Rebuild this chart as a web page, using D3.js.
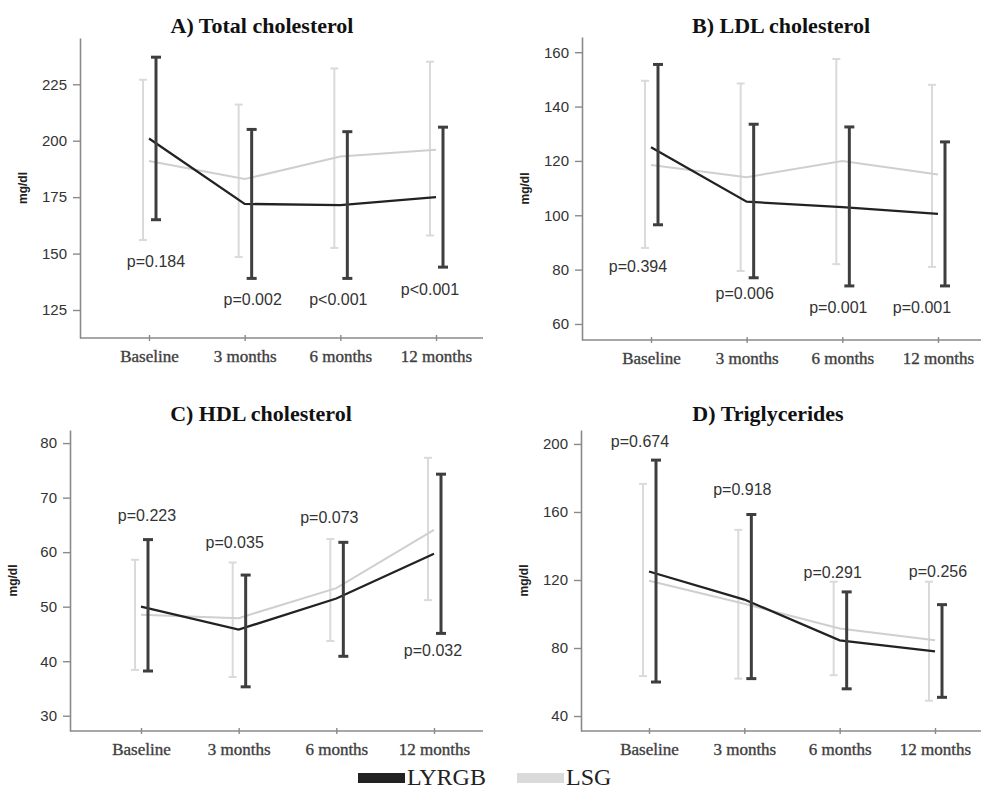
<!DOCTYPE html>
<html>
<head>
<meta charset="utf-8">
<script src="https://cdn.jsdelivr.net/npm/d3@7"></script>
<style>
  body { margin: 0; background: #fff; }
  svg { display: block; }
</style>
</head>
<body>
<svg id="chart"></svg>
<script>
// time points on the x axis
var timepoints = ["Baseline", "3 months", "6 months", "12 months"];

// each row: [mean, lower, upper] in mg/dl
var totalLYRGB = [[201, 165, 237], [172, 139, 205], [171.5, 139, 204], [175, 144, 206]];
var totalLSG   = [[191, 156, 227], [183, 148.5, 216], [193, 152.5, 232], [196, 158, 235]];
var totalP     = ["p=0.184", "p=0.002", "p<0.001", "p<0.001"];

var ldlLYRGB = [[125, 96.5, 155.5], [105, 77, 133.5], [103, 74, 132.5], [100.5, 74, 127]];
var ldlLSG   = [[118.5, 88, 149.5], [114, 79.5, 148.5], [120, 82, 157.5], [115, 81, 148]];
var ldlP     = ["p=0.394", "p=0.006", "p=0.001", "p=0.001"];

var hdlLYRGB = [[50, 38.2, 62.3], [45.8, 35.3, 55.8], [51.5, 40.9, 61.8], [59.7, 45.1, 74.3]];
var hdlLSG   = [[48.5, 38.4, 58.6], [47.9, 37.1, 58.1], [53.4, 43.7, 62.4], [64.1, 51.2, 77.3]];
var hdlP     = ["p=0.223", "p=0.035", "p=0.073", "p=0.032"];

var tgLYRGB = [[125, 60, 190.5], [108.5, 62, 158.5], [84.5, 56, 113], [78, 51, 105.5]];
var tgLSG   = [[119.5, 63.5, 176.5], [106, 62, 149.5], [91.5, 64, 119], [84.5, 49, 119]];
var tgP     = ["p=0.674", "p=0.918", "p=0.291", "p=0.256"];

var groups = ["LYRGB", "LSG"];

// layout of the four panels (pAt = where each p label sits, in axis units)
var panels = [
    {title: "A) Total cholesterol", a: totalLYRGB, b: totalLSG, p: totalP,
     pAt: [146.6, 129.6, 129.6, 134.1], pDx: [7, 8, -2, -6],
     ticks: [125, 150, 175, 200, 225], domain: [112.6, 245.5],
     axisX: 80, top: 38, bottom: 338, right: 483, x0: 149, x1: 436, titleX: 262, titleY: 25},
    {title: "B) LDL cholesterol", a: ldlLYRGB, b: ldlLSG, p: ldlP,
     pAt: [81, 71.2, 66, 66], pDx: [-13, -2, -4, -16],
     ticks: [60, 80, 100, 120, 140, 160], domain: [54.1, 165.6],
     axisX: 582, top: 37, bottom: 340, right: 981, x0: 651, x1: 938, titleX: 781, titleY: 25},
    {title: "C) HDL cholesterol", a: hdlLYRGB, b: hdlLSG, p: hdlP,
     pAt: [66.7, 61.8, 66.4, 41.9], pDx: [6, -4, -7, -1],
     ticks: [30, 40, 50, 60, 70, 80], domain: [27.2, 82.4],
     axisX: 70, top: 430, bottom: 731, right: 483, x0: 141, x1: 434, titleX: 261, titleY: 413},
    {title: "D) Triglycerides", a: tgLYRGB, b: tgLSG, p: tgP,
     pAt: [201.6, 173.2, 124.5, 125.1], pDx: [-9, -2, -7, 3],
     ticks: [40, 80, 120, 160, 200], domain: [31.2, 208.2],
     axisX: 581, top: 430, bottom: 731, right: 981, x0: 649, x1: 935, titleX: 768, titleY: 413}
];

var darkLine = "#222", darkBar = "#3e3e3e", lightLine = "#cfcfcf", lightBar = "#dadada";
var sans = "'Liberation Sans', Arial, sans-serif", serif = "'Liberation Serif', 'Times New Roman', serif";

var svg = d3.select("#chart").attr("width", 981).attr("height", 790);

panels.forEach(function(cfg) {
    var g = svg.append("g");
    var x = d3.scalePoint().domain(timepoints).range([cfg.x0, cfg.x1]);
    var y = d3.scaleLinear().domain(cfg.domain).range([cfg.bottom, cfg.top]);

    // y axis
    var yAxis = g.append("g")
        .attr("transform", "translate(" + cfg.axisX + ",0)")
        .call(d3.axisLeft(y).tickValues(cfg.ticks).tickSizeInner(7).tickSizeOuter(0).tickPadding(6));
    yAxis.select(".domain").attr("stroke", "#8a8a8a").attr("stroke-width", 1.6);
    yAxis.selectAll(".tick line").attr("stroke", "#8a8a8a").attr("stroke-width", 1.4);
    yAxis.selectAll(".tick text").attr("font-family", sans).attr("font-size", 15)
        .attr("fill", "#333");

    // x axis line spans the full plot width
    g.append("line")
        .attr("x1", cfg.axisX).attr("x2", cfg.right)
        .attr("y1", cfg.bottom).attr("y2", cfg.bottom)
        .attr("stroke", "#8a8a8a").attr("stroke-width", 1.6);
    var xAxis = g.append("g")
        .attr("transform", "translate(0," + cfg.bottom + ")")
        .call(d3.axisBottom(x).tickSizeInner(4).tickSizeOuter(0).tickPadding(8));
    xAxis.select(".domain").remove();
    xAxis.selectAll(".tick line").attr("stroke", "#8a8a8a").attr("stroke-width", 1.4)
        .attr("y1", -3).attr("y2", 3);
    xAxis.selectAll(".tick text").attr("font-family", serif).attr("font-size", 17)
        .attr("fill", "#333").attr("stroke", "#555").attr("stroke-width", 0.4);

    // y label
    g.append("text")
        .attr("transform", "translate(" + (cfg.axisX - 57) + "," + ((cfg.top + cfg.bottom) / 2) + ") rotate(-90)")
        .attr("text-anchor", "middle").attr("dy", "0.35em")
        .attr("font-family", sans).attr("font-size", 12).attr("font-weight", "bold")
        .attr("fill", "#222").text("mg/dl");

    // title
    g.append("text")
        .attr("x", cfg.titleX).attr("y", cfg.titleY).attr("dy", "0.35em")
        .attr("text-anchor", "middle")
        .attr("font-family", serif).attr("font-size", 22).attr("font-weight", "bold")
        .attr("fill", "#111").text(cfg.title);

    var line = d3.line()
        .x(function(d, i) { return x(timepoints[i]); })
        .y(function(d) { return y(d[0]); });

    function bars(data, dx, color, width, cap) {
        var bg = g.append("g").selectAll("g").data(data).enter().append("g");
        bg.append("line")
            .attr("x1", function(d, i) { return x(timepoints[i]) + dx; })
            .attr("x2", function(d, i) { return x(timepoints[i]) + dx; })
            .attr("y1", function(d) { return y(d[1]); })
            .attr("y2", function(d) { return y(d[2]); })
            .attr("stroke", color).attr("stroke-width", width);
        [1, 2].forEach(function(k) {
            bg.append("line")
                .attr("x1", function(d, i) { return x(timepoints[i]) + dx - cap / 2; })
                .attr("x2", function(d, i) { return x(timepoints[i]) + dx + cap / 2; })
                .attr("y1", function(d) { return y(d[k]); })
                .attr("y2", function(d) { return y(d[k]); })
                .attr("stroke", color).attr("stroke-width", width);
        });
    }

    // LSG (light) first, then LYRGB on top
    bars(cfg.b, -6, lightBar, 2, 8);
    g.append("path").datum(cfg.b).attr("d", line)
        .attr("fill", "none").attr("stroke", lightLine).attr("stroke-width", 2);
    g.append("path").datum(cfg.a).attr("d", line)
        .attr("fill", "none").attr("stroke", darkLine).attr("stroke-width", 2.3);
    bars(cfg.a, 7, darkBar, 3, 10);

    // p values
    g.append("g").selectAll("text").data(cfg.p).enter().append("text")
        .attr("x", function(d, i) { return x(timepoints[i]) + cfg.pDx[i]; })
        .attr("y", function(d, i) { return y(cfg.pAt[i]); })
        .attr("dy", "0.35em").attr("text-anchor", "middle")
        .attr("font-family", sans).attr("font-size", 16).attr("fill", "#333")
        .text(function(d) { return d; });
});

// legend
var legendColors = [darkLine, lightBar];
var legendX = [358, 517];
var lg = svg.append("g").selectAll("g").data(groups).enter().append("g")
    .attr("transform", function(d, i) { return "translate(" + legendX[i] + ",773)"; });
lg.append("rect").attr("width", 47).attr("height", 10)
    .attr("fill", function(d, i) { return legendColors[i]; });
lg.append("text").attr("x", 49).attr("y", 12)
    .attr("font-family", serif).attr("font-size", 24).attr("fill", "#222")
    .text(function(d) { return d; });
</script>
</body>
</html>
